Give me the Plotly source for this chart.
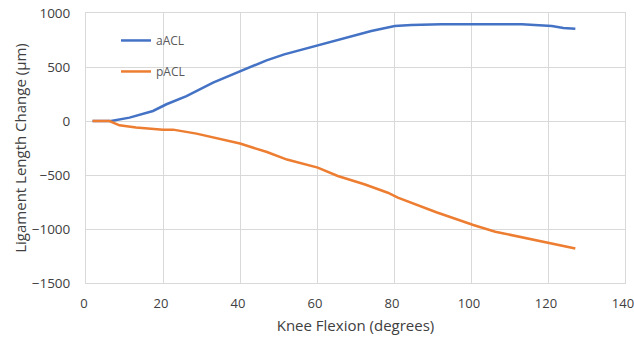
import plotly.graph_objects as go

# Knee flexion (degrees) and ligament length change (µm)
a_x = [1.7, 6.5, 11.3, 17.4, 20.9, 26.1, 33.0, 40.0, 46.9, 51.5, 60.2, 67.1,
       74.1, 80.2, 84.5, 92.3, 100.0, 113.2, 121.0, 124.0, 127.1]
a_y = [0, 0, 31, 93, 155, 231, 355, 463, 562, 617, 701, 771,
       833, 880, 889, 895, 896, 895, 880, 862, 855]

p_x = [1.7, 6.1, 8.7, 13.0, 20.0, 22.6, 28.7, 34.8, 40.0, 47.0, 52.2, 60.2,
       65.4, 72.3, 78.4, 81.0, 85.4, 91.0, 97.6, 100.6, 106.3, 112.4, 120.6, 127.1]
p_y = [0, 0, -40, -61, -80, -80, -117, -163, -209, -287, -357, -432,
       -509, -586, -664, -710, -771, -845, -926, -963, -1025, -1071, -1133, -1180]

x_ticks = [0, 20, 40, 60, 80, 100, 120, 140]
y_ticks = [-1500, -1000, -500, 0, 500, 1000]

fig = go.Figure()
fig.add_trace(go.Scatter(x=a_x, y=a_y, mode="lines", name="aACL", legendgroup="a",
                         line=dict(color="#4472C4", width=2.5)))
fig.add_trace(go.Scatter(x=p_x, y=p_y, mode="lines", name="pACL", legendgroup="p",
                         line=dict(color="#ED7D31", width=2.5)))

fnt = "'Open Sans', sans-serif"
fig.update_layout(
    width=634, height=339,
    margin=dict(l=86, r=9, t=13, b=56),
    paper_bgcolor="white", plot_bgcolor="white",
    font=dict(family=fnt, color="#404040", size=14),
    showlegend=True,
    legend=dict(x=0.0557, y=0.952, xanchor="left", yanchor="top",
                bgcolor="rgba(0,0,0,0)", font=dict(size=12, color="#595959"),
                traceorder="grouped", tracegroupgap=12, itemwidth=30),
    xaxis=dict(range=[0, 140], tickvals=x_ticks, showgrid=True, gridcolor="#d9d9d9",
               gridwidth=1, zeroline=False, showline=True, linecolor="#d9d9d9",
               mirror=True, ticks="", ticklabelstandoff=8, automargin="bottom",
               ticklabeloverflow="allow", ticklabelshift=-2, tickfont=dict(size=13),
               title=dict(text="Knee Flexion (degrees)", standoff=9,
                          font=dict(size=15, color="#404040"))),
    yaxis=dict(range=[-1500, 1000], tickvals=y_ticks, showgrid=True, gridcolor="#d9d9d9",
               gridwidth=1, zeroline=True, zerolinecolor="#d9d9d9", zerolinewidth=1,
               showline=True, linecolor="#d9d9d9", mirror=True, ticks="",
               ticklabelstandoff=12, automargin="left", ticklabeloverflow="allow",
               tickfont=dict(size=13.5),
               title=dict(text="Ligament Length Change (μm)", standoff=1,
                          font=dict(size=15, color="#404040"))),
)

fig.write_html("out.html", config={"displayModeBar": False},
               post_script="document.body.style.margin='0';")
